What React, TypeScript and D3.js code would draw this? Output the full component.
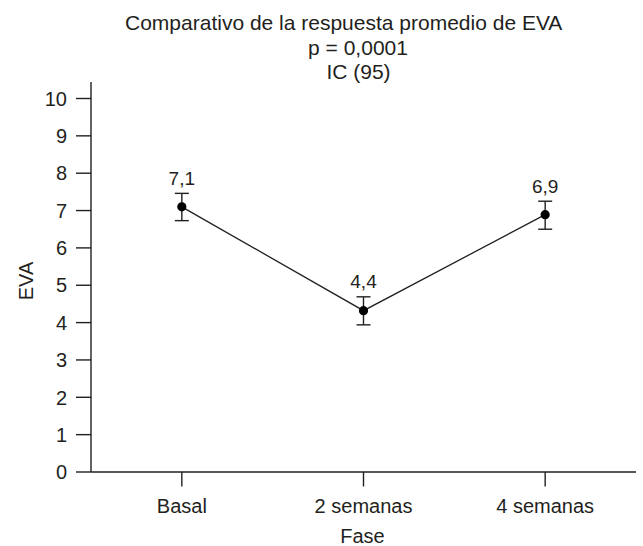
import React from "react";
import * as d3 from "d3";

// data
const categories = ["Basal", "2 semanas", "4 semanas"];
const means = [7.1, 4.32, 6.89];
const lower = [6.73, 3.94, 6.5];
const upper = [7.46, 4.69, 7.25];
const valueLabels = ["7,1", "4,4", "6,9"];
const yTicks = [0, 1, 2, 3, 4, 5, 6, 7, 8, 9, 10];
const titleLines = ["Comparativo de la respuesta promedio de EVA", "p = 0,0001", "IC (95)"];

const W = 643,
  H = 546,
  font = "'Liberation Sans', Arial, Helvetica, sans-serif",
  ink = "#231f20",
  margin = { top: 98.5, bottom: 74, left: 91, right: 7 };

export default function App() {
  const xScale = d3.scaleBand()
    .range([margin.left, W - margin.right])
    .domain(categories);

  const yScale = d3.scaleLinear()
    .domain([0, 10])
    .range([H - margin.bottom, margin.top]);

  const cx = (c: string) => (xScale(c) as number) + xScale.bandwidth() / 2;
  const y0 = yScale(0);

  const line = d3.line<number>()
    .x((d, i) => cx(categories[i]))
    .y(d => yScale(d));

  const capW = 7;

  return (
    <svg width={W} height={H} style={{ position: "absolute", left: 0, top: 0, background: "#fff" }}
      fontFamily={font} fill={ink}>
      {/* title */}
      <text x={343.7} y={30} fontSize={21} textAnchor="middle">{titleLines[0]}</text>
      <text x={358} y={55} fontSize={21} textAnchor="middle">{titleLines[1]}</text>
      <text x={358.5} y={79} fontSize={21} textAnchor="middle">{titleLines[2]}</text>

      {/* y axis */}
      <line x1={margin.left} x2={margin.left} y1={margin.top - 16.5} y2={y0} stroke={ink} strokeWidth={1.4} />
      {yTicks.map(t => (
        <g key={t}>
          <line x1={margin.left - 15} x2={margin.left} y1={yScale(t)} y2={yScale(t)} stroke={ink} strokeWidth={1.4} />
          <text x={margin.left - 24} y={yScale(t)} dy="0.36em" fontSize={20} textAnchor="end">{t}</text>
        </g>
      ))}
      <text transform={`translate(33,281) rotate(-90)`} fontSize={20} textAnchor="middle">EVA</text>

      {/* x axis */}
      <line x1={margin.left} x2={W - margin.right} y1={y0} y2={y0} stroke={ink} strokeWidth={1.4} />
      {categories.map(c => (
        <g key={c}>
          <line x1={cx(c)} x2={cx(c)} y1={y0} y2={y0 + 14.5} stroke={ink} strokeWidth={1.4} />
          <text x={cx(c)} y={513} fontSize={20} textAnchor="middle">{c}</text>
        </g>
      ))}
      <text x={362.5} y={543} fontSize={20} textAnchor="middle">Fase</text>

      {/* connecting line */}
      <path d={line(means) as string} fill="none" stroke={ink} strokeWidth={1.3} />

      {/* error bars, points, labels */}
      {categories.map((c, i) => (
        <g key={c}>
          <line x1={cx(c)} x2={cx(c)} y1={yScale(lower[i])} y2={yScale(upper[i])} stroke={ink} strokeWidth={1.4} />
          <line x1={cx(c) - capW} x2={cx(c) + capW} y1={yScale(upper[i])} y2={yScale(upper[i])} stroke={ink} strokeWidth={1.4} />
          <line x1={cx(c) - capW} x2={cx(c) + capW} y1={yScale(lower[i])} y2={yScale(lower[i])} stroke={ink} strokeWidth={1.4} />
          <circle cx={cx(c)} cy={yScale(means[i])} r={4.6} fill="#000" />
          <text x={cx(c)} y={yScale(upper[i]) - 8.5} fontSize={19} textAnchor="middle">{valueLabels[i]}</text>
        </g>
      ))}
    </svg>
  );
}
